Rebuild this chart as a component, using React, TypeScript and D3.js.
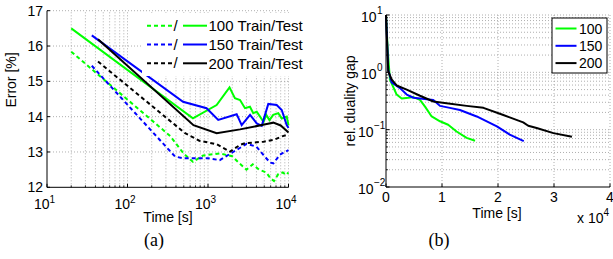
import React from "react";
import * as d3 from "d3";

// ---- Data: panel (a) Error [%] vs Time [s] (log x) ----
const green100Test: [number, number][] = [
  [20, 16.5], [650, 13.95], [1280, 14.33], [1850, 14.83], [2160, 14.52], [2500, 14.47],
  [2880, 14.24], [3320, 14.28], [3650, 14.1], [4030, 14.14], [4430, 14.0], [4900, 13.85],
  [5300, 14.05], [5800, 13.9], [6460, 14.05], [7470, 14.1], [8240, 13.95], [9500, 14.0], [10000, 13.75],
];
const green100Train: [number, number][] = [
  [20, 15.84], [340, 13.45], [500, 12.95], [650, 12.72], [870, 12.9], [1400, 12.96],
  [2000, 12.88], [2400, 12.7], [3000, 12.5], [3600, 12.65], [4300, 12.5], [5300, 12.42],
  [6000, 12.25], [6600, 12.18], [7500, 12.38], [8500, 12.42], [9300, 12.35], [10000, 12.42],
];
const blue150Test: [number, number][] = [
  [36, 16.3], [490, 14.42], [960, 14.24], [1340, 13.91], [2270, 14.07], [2620, 13.76],
  [3330, 14.05], [4030, 13.81], [4650, 13.74], [5610, 14.36], [7130, 14.33], [8240, 14.19],
  [9500, 13.76], [10000, 13.68],
];
const blue150Train: [number, number][] = [
  [36, 15.44], [390, 12.87], [500, 12.82], [1000, 12.82], [1400, 12.77], [2050, 13.0],
  [3020, 13.23], [4000, 13.15], [4900, 12.91], [5900, 12.7], [6500, 12.68], [7800, 12.92],
  [9000, 13.0], [10000, 13.05],
];
const black200Test: [number, number][] = [
  [43, 16.19], [660, 13.76], [1280, 13.53], [2500, 13.64], [5370, 13.79], [6480, 13.83],
  [8000, 13.75], [10000, 13.55],
];
const black200Train: [number, number][] = [
  [43, 15.56], [520, 13.53], [780, 13.32], [1280, 13.22], [1880, 13.01], [2500, 13.2],
  [2900, 13.25], [4900, 13.29], [6480, 13.34], [8500, 13.45], [10000, 13.5],
];
const legendLabelsA = ["100 Train/Test", "150 Train/Test", "200 Train/Test"];
const yTicksA = [12, 13, 14, 15, 16, 17];
const xTicksA = [10, 100, 1000, 10000];

// ---- Data: panel (b) rel. duality gap vs Time [s] (log y) ----
const gap100: [number, number][] = [
  [0, 10], [300, 2.5], [700, 0.75], [1900, 0.41], [2800, 0.35], [4000, 0.36], [4900, 0.37],
  [6070, 0.33], [7000, 0.25], [8150, 0.17], [9640, 0.14], [11100, 0.122], [12600, 0.093],
  [14400, 0.072], [15900, 0.064],
];
const gap150: [number, number][] = [
  [0, 10], [400, 1.1], [1000, 0.67], [2500, 0.53], [3700, 0.41], [4900, 0.36], [7270, 0.34],
  [8450, 0.33], [9640, 0.26], [11400, 0.24], [13200, 0.22], [16200, 0.17], [19800, 0.114],
  [22100, 0.082], [24600, 0.063],
];
const gap200: [number, number][] = [
  [0, 10], [400, 1.04], [1000, 0.75], [1900, 0.59], [3700, 0.5], [6070, 0.39], [8450, 0.31],
  [10800, 0.29], [14400, 0.26], [17400, 0.24], [20950, 0.18], [24500, 0.134], [25400, 0.117],
  [26900, 0.107], [29900, 0.087], [33200, 0.075],
];
const legendLabelsB = ["100", "150", "200"];
const xTicksB = [0, 1, 2, 3, 4];
const yExpB = [-2, -1, 0, 1];

const FONT = "'Liberation Sans', Arial, Helvetica, sans-serif";
const GREEN = "#00ff00";
const BLUE = "#0000ff";
const BLACK = "#000000";
const GRID = { stroke: "#9a9a9a", strokeWidth: 0.8, strokeDasharray: "1,2" };

export default function App() {
  // Panel (a) scales
  const xA = d3.scaleLog().domain([10, 1e4]).range([47, 288.5]);
  const yA = d3.scaleLinear().domain([12, 17]).range([187.3, 10.7]);
  const lineA = d3.line<[number, number]>().x((d) => xA(d[0])).y((d) => yA(d[1]));
  const minorA: number[] = [];
  [10, 100, 1000].forEach((dec) => { for (let k = 2; k <= 9; k++) minorA.push(dec * k); });

  // Panel (b) scales
  const xB = d3.scaleLinear().domain([0, 4e4]).range([386, 610]);
  const yB = d3.scaleLog().domain([1e-2, 10]).range([187, 15]);
  const lineB = d3.line<[number, number]>().x((d) => xB(d[0])).y((d) => yB(d[1]));
  const minorB: number[] = [];
  [0.01, 0.1, 1].forEach((dec) => { for (let k = 2; k <= 9; k++) minorB.push(dec * k); });

  const seriesA = [
    { train: green100Train, test: green100Test, color: GREEN },
    { train: blue150Train, test: blue150Test, color: BLUE },
    { train: black200Train, test: black200Test, color: BLACK },
  ];
  const seriesB = [
    { data: gap100, color: GREEN },
    { data: gap150, color: BLUE },
    { data: gap200, color: BLACK },
  ];

  const [a0, a1] = xA.range();
  const [ab, at] = yA.range();
  const [b0, b1] = xB.range();
  const [bb, bt] = yB.range();

  return (
    <svg width={613} height={259} style={{ display: "block", position: "absolute", left: 0, top: 0 }} fontFamily={FONT}>
      <rect x={0} y={0} width={613} height={259} fill="#fff" />
      {/* ===== Panel (a) ===== */}
      <g>
        {minorA.concat([100, 1000, 10000]).map((v) => (
          <line key={"gx" + v} x1={xA(v)} x2={xA(v)} y1={ab} y2={at} {...GRID} />
        ))}
        {yTicksA.slice(1).map((v) => (
          <line key={"gy" + v} x1={a0} x2={a1} y1={yA(v)} y2={yA(v)} {...GRID} />
        ))}
        {seriesA.map((s, i) => (
          <g key={"sa" + i}>
            <path d={lineA(s.train) || ""} fill="none" stroke={s.color} strokeWidth={2} strokeDasharray="4,3" />
            <path d={lineA(s.test) || ""} fill="none" stroke={s.color} strokeWidth={2} />
          </g>
        ))}
        {/* legend (white background, no border) */}
        <rect x={142} y={13} width={166} height={63} fill="#fff" />
        {legendLabelsA.map((lab, i) => {
          const cy = 25.7 + i * 18.8;
          const c = seriesA[i].color;
          return (
            <g key={"la" + i}>
              <line x1={147} x2={172} y1={cy} y2={cy} stroke={c} strokeWidth={2} strokeDasharray="4,3" />
              <text x={175.5} y={cy + 5} fontSize={15} textAnchor="middle" fill="#000">/</text>
              <line x1={183} x2={207} y1={cy} y2={cy} stroke={c} strokeWidth={2} />
              <text x={208.5} y={cy + 5.3} fontSize={15} fill="#000">{lab}</text>
            </g>
          );
        })}
        {/* axes */}
        <line x1={a0} x2={a0} y1={ab} y2={at} stroke="#000" strokeWidth={1} />
        <line x1={a0} x2={a1} y1={ab} y2={ab} stroke="#000" strokeWidth={1} />
        {yTicksA.map((v) => (
          <g key={"ty" + v}>
            <line x1={a0} x2={a0 + 3} y1={yA(v)} y2={yA(v)} stroke="#000" />
            <text x={43} y={yA(v) + 5} fontSize={14} textAnchor="end">{v}</text>
          </g>
        ))}
        {minorA.map((v) => (
          <line key={"mt" + v} x1={xA(v)} x2={xA(v)} y1={ab} y2={ab - 2} stroke="#000" strokeWidth={0.8} />
        ))}
        {xTicksA.map((v) => (
          <g key={"tx" + v}>
            <line x1={xA(v)} x2={xA(v)} y1={ab} y2={ab - 3.5} stroke="#000" />
            <text x={xA(v) - 2.5} y={208.5} fontSize={14} textAnchor="middle">
              10
              <tspan dy={-6} fontSize={10}>{Math.round(Math.log10(v))}</tspan>
            </text>
          </g>
        ))}
        <text x={168} y={221.5} fontSize={14} textAnchor="middle">Time [s]</text>
        <text transform={`translate(16,80) rotate(-90)`} fontSize={14} textAnchor="middle">Error [%]</text>
        <text x={154} y={246} fontSize={18} textAnchor="middle" fontFamily="'Liberation Serif', 'Times New Roman', serif">(a)</text>
      </g>

      {/* ===== Panel (b) ===== */}
      <g>
        {minorB.concat([0.1, 1, 10]).map((v) => (
          <line key={"gby" + v} x1={b0} x2={b1} y1={yB(v)} y2={yB(v)} {...GRID} />
        ))}
        {xTicksB.slice(1).map((v) => (
          <line key={"gbx" + v} x1={xB(v * 1e4)} x2={xB(v * 1e4)} y1={bb} y2={bt} {...GRID} />
        ))}
        {seriesB.map((s, i) => (
          <path key={"sb" + i} d={lineB(s.data) || ""} fill="none" stroke={s.color} strokeWidth={2} strokeLinejoin="round" />
        ))}
        <line x1={b0} x2={b0} y1={bb} y2={bt} stroke="#000" strokeWidth={1} />
        <line x1={b0} x2={b1} y1={bb} y2={bb} stroke="#000" strokeWidth={1} />
        {minorB.map((v) => (
          <line key={"mbt" + v} x1={b0} x2={b0 + 2} y1={yB(v)} y2={yB(v)} stroke="#000" strokeWidth={0.8} />
        ))}
        {yExpB.map((e) => (
          <g key={"tby" + e}>
            <line x1={b0} x2={b0 + 3.5} y1={yB(Math.pow(10, e))} y2={yB(Math.pow(10, e))} stroke="#000" />
            <text x={e < 0 ? 373.5 : 376.5} y={yB(Math.pow(10, e)) + 7} fontSize={14} textAnchor="end">10</text>
            <text x={e < 0 ? 374 : 377} y={yB(Math.pow(10, e)) - 1} fontSize={10} textAnchor="start">{e < 0 ? "\u2212" + Math.abs(e) : e}</text>
          </g>
        ))}
        {xTicksB.map((v) => (
          <g key={"tbx" + v}>
            <line x1={xB(v * 1e4)} x2={xB(v * 1e4)} y1={bb} y2={bb - 3.5} stroke="#000" />
            <text x={xB(v * 1e4)} y={202} fontSize={14} textAnchor="middle">{v}</text>
          </g>
        ))}
        <text x={497} y={217.5} fontSize={14} textAnchor="middle">Time [s]</text>
        <text x={577} y={223} fontSize={14}>
          x 10
          <tspan dy={-7} fontSize={10}>4</tspan>
        </text>
        <text transform={`translate(355,${(bb + bt) / 2}) rotate(-90)`} fontSize={14} textAnchor="middle">rel. duality gap</text>
        {/* legend */}
        <rect x={552} y={18} width={55} height={55} fill="#fff" stroke="#000" strokeWidth={1} />
        {legendLabelsB.map((lab, i) => {
          const cy = 28.5 + i * 17.3;
          return (
            <g key={"lb" + i}>
              <line x1={555.5} x2={576.5} y1={cy} y2={cy} stroke={seriesB[i].color} strokeWidth={2} />
              <text x={579} y={cy + 5} fontSize={14}>{lab}</text>
            </g>
          );
        })}
        <text x={439} y={246} fontSize={18} textAnchor="middle" fontFamily="'Liberation Serif', 'Times New Roman', serif">(b)</text>
      </g>
    </svg>
  );
}
